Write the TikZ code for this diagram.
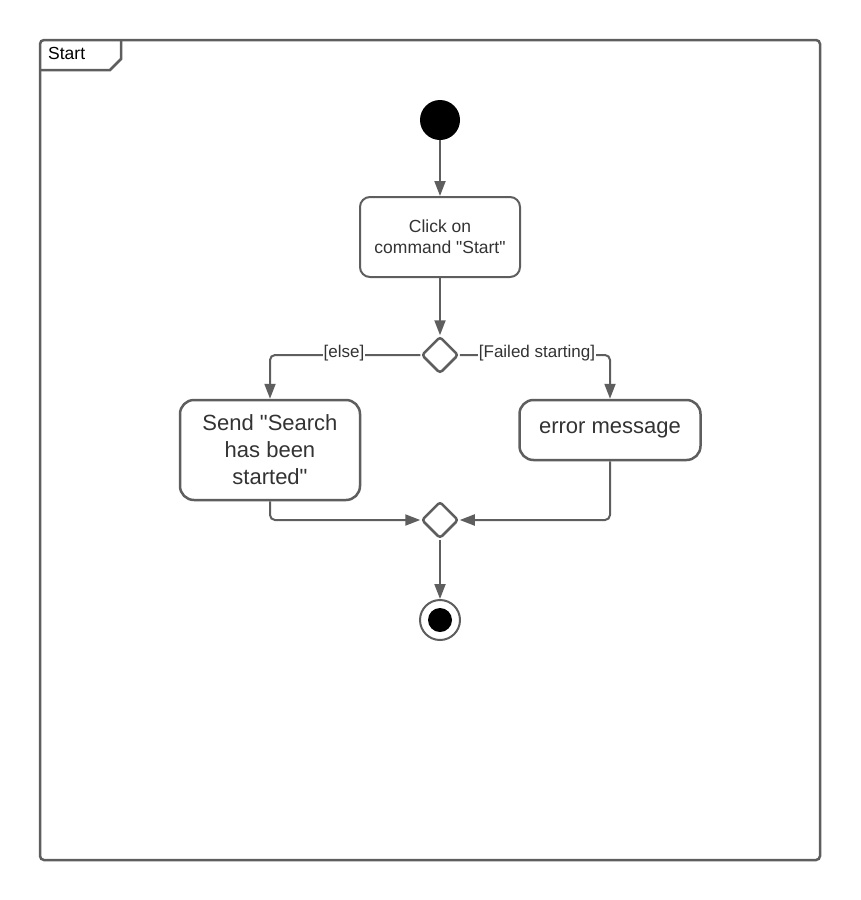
\documentclass[tikz,border=0pt]{standalone}
\usepackage{fontspec}
\setmainfont[Ligatures=TeXOff]{Liberation Sans}
\usetikzlibrary{arrows.meta,shapes.geometric}
\definecolor{lc}{HTML}{5E5E5E}
\definecolor{tc}{HTML}{333333}
\tikzset{
  actbox/.style={draw=lc, line width=2.5pt, rounded corners=14pt, fill=white, text=tc, align=center, inner sep=0pt},
  smallbox/.style={draw=lc, line width=2pt, rounded corners=10pt, fill=white, text=tc, align=center, inner sep=0pt, font=\fontsize{17.5}{21}\selectfont},
  bigtext/.style={font=\fontsize{22}{27}\selectfont},
  dec/.style={draw=lc, line width=2.5pt, diamond, minimum width=37pt, minimum height=37pt, inner sep=0pt, rounded corners=3pt, fill=white},
  flow/.style={draw=lc, line width=2pt, rounded corners=5pt, -{Triangle[length=15pt,width=11pt]}},
  guard/.style={fill=white, text=tc, inner sep=1pt, font=\fontsize{17}{20}\selectfont},
}
\begin{document}
\begin{tikzpicture}[x=1pt,y=-1pt]
\useasboundingbox (0,0) rectangle (860,900);
% frame
\draw[lc, line width=2.5pt, rounded corners=4pt] (40,40) rectangle (820,860);
\draw[lc, line width=2.5pt] (40,70) -- (110,70) -- (121,59) -- (121,40);
\node[anchor=west, text=black, inner sep=0pt, font=\fontsize{17.5}{20}\selectfont] (frametitle) at (48,53) {Start};
% nodes
\node[circle, fill=black, minimum size=40pt, inner sep=0pt] (init) at (440,120) {};
\node[smallbox, minimum width=160pt, minimum height=80pt] (click) at (440,237) {Click on\\command "Start"};
\node[dec] (d1) at (440,355) {};
\node[actbox, bigtext, minimum width=180pt, minimum height=100pt] (send) at (270,450) {Send "Search\\has been\\started"};
\node[actbox, bigtext, minimum width=181pt, minimum height=60pt] (err) at (610,430) {error message};
\node[dec] (d2) at (440,520) {};
\node[circle, draw=lc, line width=2pt, fill=white, minimum size=40pt, inner sep=0pt] (fin) at (440,620) {};
\node[circle, fill=black, minimum size=24pt, inner sep=0pt] (finin) at (fin) {};
% connectors
\draw[flow] (init) -- (click);
\draw[flow] (click) -- (d1);
\draw[flow] (d1.west) -| (send.north);
\draw[flow] (d1.east) -| (err.north);
\draw[flow] (send.south) |- (d2.west);
\draw[flow] (err.south) |- (d2.east);
\draw[flow] (d2) -- (fin);
% guards
\node[guard] (gelse) at (344,353) {[else]};
\node[guard] (gfail) at (537,353) {[Failed starting]};
\end{tikzpicture}
\end{document}
